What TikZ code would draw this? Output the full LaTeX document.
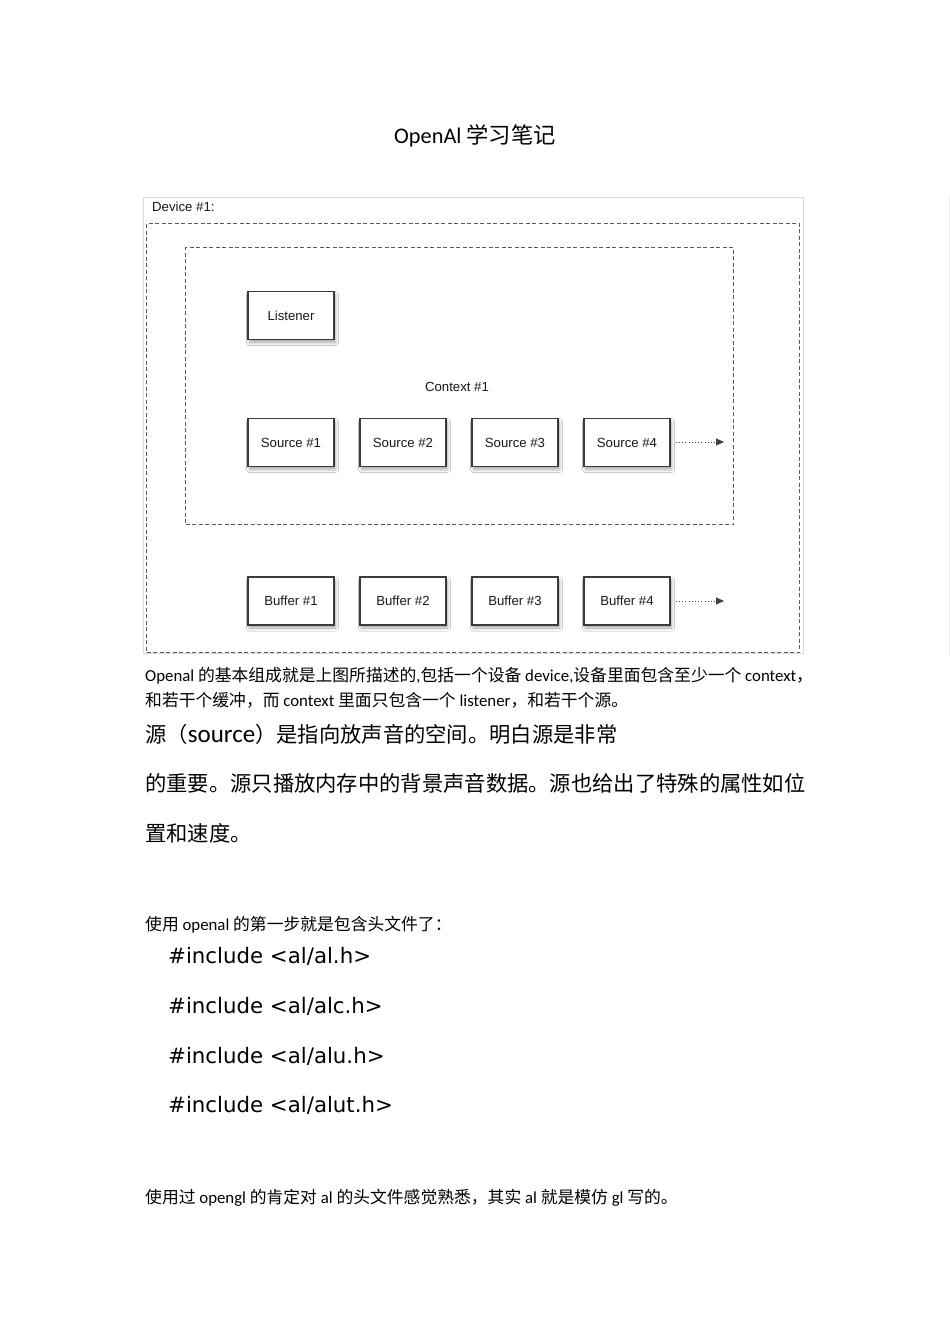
\documentclass[tikz,border=0pt]{standalone}
\usepackage{fontspec}
\setmainfont{Carlito}
\newfontfamily\cjk{Noto Sans CJK SC}
\newfontfamily\hel{Liberation Sans}
\newfontfamily\vdn{DejaVu Sans}
\usetikzlibrary{arrows.meta,shadows.blur}
\newcommand\zh[1]{{\cjk #1}}
\definecolor{boxline}{HTML}{3A3A3A}
\definecolor{dashline}{HTML}{5A5A5A}
\definecolor{framegray}{HTML}{DADADA}
\tikzset{
  txt/.style={inner sep=0pt, anchor=base west, text=black},
  small/.style={txt, font=\fontsize{16.8}{20}\selectfont},
  big/.style={txt, font=\fontsize{21.3}{26}\selectfont},
  code/.style={txt, font=\vdn\fontsize{21.3}{26}\selectfont},
  unitbox/.style={draw=boxline, line width=1.7pt, fill=white, minimum width=86pt, minimum height=48pt,
    inner sep=0pt, font=\hel\fontsize{13.2}{15}\selectfont, text=black!90,
    blur shadow={shadow xshift=1.5pt, shadow yshift=-3pt, shadow blur steps=8, shadow blur radius=3pt, shadow opacity=35}},
  dashbox/.style={draw=dashline, line width=1pt, dash pattern=on 4pt off 2.5pt, inner sep=0pt, anchor=north west},
  dotarrow/.style={draw=black!75, line width=0.9pt, dash pattern=on 1pt off 2.2pt, -{Triangle[length=8pt,width=7pt]}},
  lbl/.style={inner sep=0pt, font=\hel\fontsize{13.2}{15}\selectfont, text=black!90}
}
\begin{document}
\begin{tikzpicture}[x=1pt,y=-1pt]
\fill[white] (0,0) rectangle (950,1344);
\useasboundingbox (0,0) rectangle (950,1344);

% title
\node[inner sep=0pt, anchor=base, font=\fontsize{22.3}{26}\selectfont] (title) at (475,143) {OpenAl \zh{学习笔记}};

% figure frame
\node[draw=framegray, line width=1pt, minimum width=660pt, minimum height=456pt, inner sep=0pt, anchor=north west] (frame) at (143,197) {};
\draw[black!8, line width=1pt] (949,195) -- (949,656);
\node[lbl, anchor=base west] (devlbl) at (152,211) {Device \#1:};

% device and context boxes
\node[dashbox, minimum width=653pt, minimum height=429pt] (device) at (146,223) {};
\node[dashbox, minimum width=548pt, minimum height=277pt] (context) at (185,247) {};
\node[lbl] (ctxlbl) at (457,387) {Context \#1};

% units
\node[unitbox] (listener) at (291,315.5) {Listener};
\node[unitbox] (s1) at (291,442.5) {Source \#1};
\node[unitbox] (s2) at (403,442.5) {Source \#2};
\node[unitbox] (s3) at (515,442.5) {Source \#3};
\node[unitbox] (s4) at (627,442.5) {Source \#4};
\node[unitbox] (b1) at (291,601) {Buffer \#1};
\node[unitbox] (b2) at (403,601) {Buffer \#2};
\node[unitbox] (b3) at (515,601) {Buffer \#3};
\node[unitbox] (b4) at (627,601) {Buffer \#4};

\coordinate (s4end) at (724,442);
\coordinate (b4end) at (724,601);
\draw[dotarrow] ([xshift=5pt]s4.east |- s4end) -- (s4end);
\draw[dotarrow] ([xshift=5pt]b4.east |- b4end) -- (b4end);

% body text
\node[small] (p1) at (145,681) {Openal \zh{的基本组成就是上图所描述的},\zh{包括一个设备} device,\zh{设备里面包含至少一个} context\zh{，}};
\node[small] (p2) at (145,706) {\zh{和若干个缓冲，而} context \zh{里面只包含一个} listener\zh{，和若干个源。}};
\node[big] (q1) at (145,742) {\zh{源（}{\fontsize{25}{26}\selectfont source}\zh{）是指向放声音的空间。明白源是非常}};
\node[big] (q2) at (145,791) {\zh{的重要。源只播放内存中的背景声音数据。源也给出了特殊的属性如位}};
\node[big] (q3) at (145,841) {\zh{置和速度。}};

\node[small] (u1) at (145,930) {\zh{使用} openal \zh{的第一步就是包含头文件了：}};
\node[code] (i1) at (168,963) {\#include <al/al.h>};
\node[code] (i2) at (168,1013) {\#include <al/alc.h>};
\node[code] (i3) at (168,1063) {\#include <al/alu.h>};
\node[code] (i4) at (168,1112) {\#include <al/alut.h>};

\node[small] (u2) at (145,1203) {\zh{使用过} opengl \zh{的肯定对} al \zh{的头文件感觉熟悉，其实} al \zh{就是模仿} gl \zh{写的。}};
\end{tikzpicture}
\end{document}
